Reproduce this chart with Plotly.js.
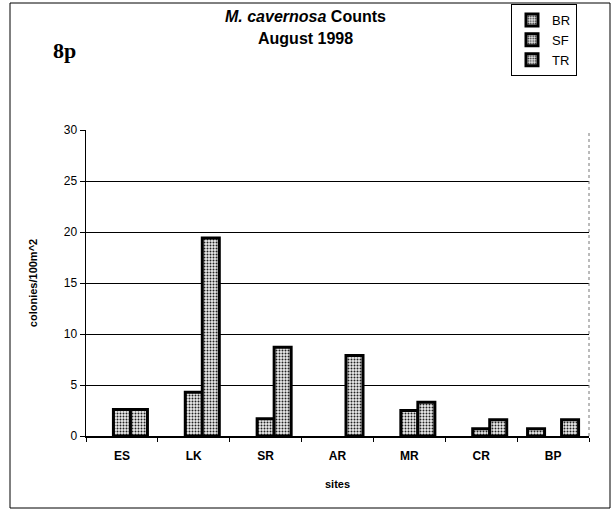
<!DOCTYPE html>
<html>
<head>
<meta charset="utf-8">
<script src="https://cdn.plot.ly/plotly-3.0.1.min.js"></script>
<style>html,body{margin:0;padding:0;background:#fff;}#chart{width:616px;height:517px;}</style>
</head>
<body>
<div id="chart"></div>
<script>
var sites = ['ES','LK','SR','AR','MR','CR','BP'];
var brValues = [null, null, null, null, null, null, 0.7];
var sfValues = [2.6, 4.3, 1.7, null, 2.5, 0.7, null];
var trValues = [2.6, 19.4, 8.7, 7.9, 3.3, 1.6, 1.6];
var seriesNames = ['BR','SF','TR'];

function barTrace(name, vals) {
  return {
    type: 'bar', name: name, x: sites, y: vals,
    marker: {
      color: '#d8d8d8',
      pattern: {shape: '.', fgcolor: '#222', bgcolor: '#ececec', size: 3, solidity: 0.35},
      line: {color: '#000', width: 3}
    }
  };
}
var data = [barTrace(seriesNames[0], brValues), barTrace(seriesNames[1], sfValues), barTrace(seriesNames[2], trValues)];

var L = 86, R = 589, T = 130, B = 436, W = 616, H = 517;
function px(x){ return (x - L) / (R - L); }
function py(y){ return (B - y) / (B - T); }

var layout = {
  width: W, height: H,
  margin: {l: L, r: W - R, t: T, b: H - B, pad: 0, autoexpand: false},
  paper_bgcolor: '#fff', plot_bgcolor: '#fff',
  font: {family: 'Liberation Sans, Arial, sans-serif', color: '#000', size: 12},
  barmode: 'group', bargap: 0.29, bargroupgap: 0,
  showlegend: true,
  legend: {
    xref: 'container', yref: 'container',
    x: 577 / W, y: 1 - 4 / H, xanchor: 'right', yanchor: 'top',
    bgcolor: '#fff', bordercolor: '#000', borderwidth: 1,
    font: {size: 13, family: 'Liberation Sans, Arial, sans-serif'},
    itemwidth: 30
  },
  xaxis: {
    type: 'category', showgrid: false, zeroline: false, automargin: false,
    showline: true, linecolor: '#000', linewidth: 1.5,
    ticks: 'outside', ticklen: 4, tickcolor: '#000', tickson: 'boundaries',
    ticklabelstandoff: 8,
    tickfont: {size: 12, family: 'Liberation Sans, Arial, sans-serif', weight: 'bold'},
    title: {text: '<b>sites</b>', font: {size: 11}, standoff: 18}
  },
  yaxis: {
    range: [0, 30], dtick: 5, tick0: 0, automargin: false,
    showgrid: true, gridcolor: '#000', gridwidth: 1,
    zeroline: false, showline: true, linecolor: '#000', linewidth: 1.5,
    ticks: 'outside', ticklen: 5, tickcolor: '#000',
    tickfont: {size: 12},
    title: {text: '<b>colonies/100m^2</b>', font: {size: 11}, standoff: 24}
  },
  shapes: [
    {type: 'rect', xref: 'paper', yref: 'paper', x0: px(10), x1: px(610), y0: py(3), y1: py(508), line: {color: '#000', width: 1}, fillcolor: 'rgba(0,0,0,0)', layer: 'below'},
    {type: 'line', xref: 'paper', yref: 'paper', x0: 1, x1: 1, y0: 0, y1: 1, line: {color: '#777', width: 1, dash: 'dot'}}
  ],
  annotations: [
    {xref: 'paper', yref: 'paper', x: px(305), y: py(16), text: '<b><i>M. cavernosa</i> Counts</b>', showarrow: false, font: {size: 16}, xanchor: 'center', yanchor: 'middle'},
    {xref: 'paper', yref: 'paper', x: px(305), y: py(39), text: '<b>August 1998</b>', showarrow: false, font: {size: 16}, xanchor: 'center', yanchor: 'middle'},
    {xref: 'paper', yref: 'paper', x: px(64), y: py(50), text: '<b>8p</b>', showarrow: false, font: {size: 22, family: 'Liberation Serif, Times New Roman, serif'}, xanchor: 'center', yanchor: 'middle'}
  ]
};
Plotly.newPlot('chart', data, layout, {displayModeBar: false, staticPlot: true});
</script>
</body>
</html>
